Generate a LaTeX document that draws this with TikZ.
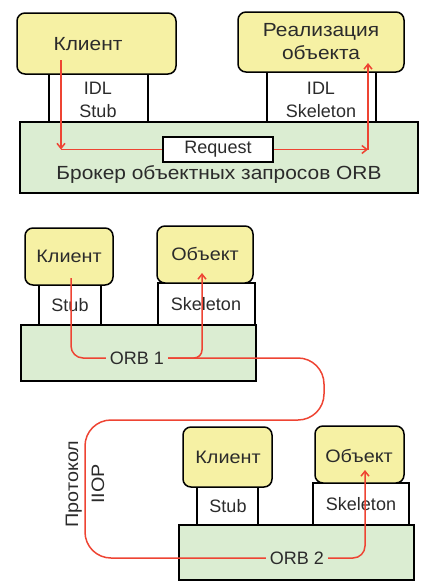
\documentclass[tikz,border=0pt]{standalone}
\usepackage{fontspec}
\setmainfont{Liberation Sans}
\newfontfamily\cyrwide[FakeStretch=1.1]{Liberation Sans}
\usetikzlibrary{arrows.meta}
\definecolor{boxyellow}{HTML}{F6F1A4}
\definecolor{boxgreen}{HTML}{DBEDD2}
\definecolor{flowred}{HTML}{EE4433}
\definecolor{txt}{HTML}{2B2B2B}
\begin{document}
\begin{tikzpicture}[x=1pt,y=-1pt,
  every node/.style={text=txt,font=\fontsize{18}{23}\selectfont},
  ybox/.style={draw=black,line width=1.5pt,fill=boxyellow,rounded corners=8pt},
  wbox/.style={draw=black,line width=1.5pt,fill=white},
  gbox/.style={draw=black,line width=1.5pt,fill=boxgreen},
  flow/.style={draw=flowred,line width=1.5pt},
  tip/.style={-{Straight Barb[length=5pt,width=8pt]}},
  lbl/.style={inner sep=2pt,align=center},
  cyr/.style={font=\cyrwide\fontsize{18}{23}\selectfont},
  bigcyr/.style={font=\cyrwide\fontsize{19}{23}\selectfont}]
\useasboundingbox (0,0) rectangle (425,581);
% ---------- top part ----------
\draw[wbox] (49,74) rectangle (148,125);
\draw[wbox] (267,72) rectangle (376,125);
\draw[ybox] (17,13) rectangle (176,74);
\draw[ybox] (238,12) rectangle (404,72);
\draw[gbox] (20,122) rectangle (418,193);
\node[lbl,bigcyr] (klient1) at (88,44) {Клиент};
\node[lbl] (stub1) at (98,100) {IDL\\Stub};
\node[lbl,bigcyr] (real) at (321,42) {Реализация\\объекта};
\node[lbl] (skel1) at (321,100) {IDL\\Skeleton};
\node[draw=black,line width=1.5pt,fill=white,minimum width=110pt,minimum height=25pt,inner sep=0pt] (req) at (218,149.5) {Request};
\node[lbl,bigcyr] (broker) at (219,175) {Брокер объектных запросов ORB};
\coordinate (a1) at (61,60);
\coordinate (a2) at (61,149.5);
\coordinate (a3) at (368,149.5);
\coordinate (a4) at (368,63);
\draw[flow,tip] (a1) -- (a2);
\draw[flow] (a2) -- (req.west);
\draw[flow,tip] (req.east) -- (a3);
\draw[flow,tip] (a3) -- (a4);
% ---------- middle part ----------
\draw[wbox] (39,285) rectangle (101,325);
\draw[wbox] (158,283) rectangle (255,325);
\draw[ybox] (25,228) rectangle (113,285);
\draw[ybox] (157,226) rectangle (253,283);
\draw[gbox] (21,325) rectangle (256,381);
\node[lbl,cyr] (klient2) at (69,256) {Клиент};
\node[lbl] (stub2) at (70,305) {Stub};
\node[lbl,cyr] (obj2) at (205,254) {Объект};
\node[lbl] (skel2) at (206,304) {Skeleton};
\node[lbl,inner sep=4pt] (orb1) at (137,358) {ORB 1};
% ---------- bottom part ----------
\draw[wbox] (197,487) rectangle (258,525);
\draw[wbox] (313,483) rectangle (409,525);
\draw[ybox] (183,427) rectangle (272,487);
\draw[ybox] (315,426) rectangle (404,483);
\draw[gbox] (179,525) rectangle (414,580);
\node[lbl,cyr] (klient3) at (228,457) {Клиент};
\node[lbl] (stub3) at (228,506) {Stub};
\node[lbl,cyr] (obj3) at (359,456) {Объект};
\node[lbl] (skel3) at (361,504) {Skeleton};
\node[lbl,inner sep=4pt] (orb2) at (297,558) {ORB 2};
\node[align=center,rotate=90,font=\cyrwide\fontsize{18}{26}\selectfont] (iiop) at (85,484) {Протокол\\IIOP};
% ---------- flows ----------
\coordinate (b1) at (71,278);
\coordinate (b2) at (202,273);
\coordinate (b3) at (324,358);
\coordinate (b4) at (324,420);
\coordinate (b5) at (85,420);
\coordinate (b6) at (85,558);
\coordinate (c1) at (365,470);
\draw[flow,rounded corners=12pt] (b1) |- (orb1.west);
\draw[flow,tip,rounded corners=8pt] (orb1.east) -| (b2);
\draw[flow,rounded corners=26pt] (orb1.east) -- (b3) -- (b4) -- (b5) -- (b6) -- (orb2.west);
\draw[flow,tip,rounded corners=12pt] (orb2.east) -| (c1);
\end{tikzpicture}
\end{document}
